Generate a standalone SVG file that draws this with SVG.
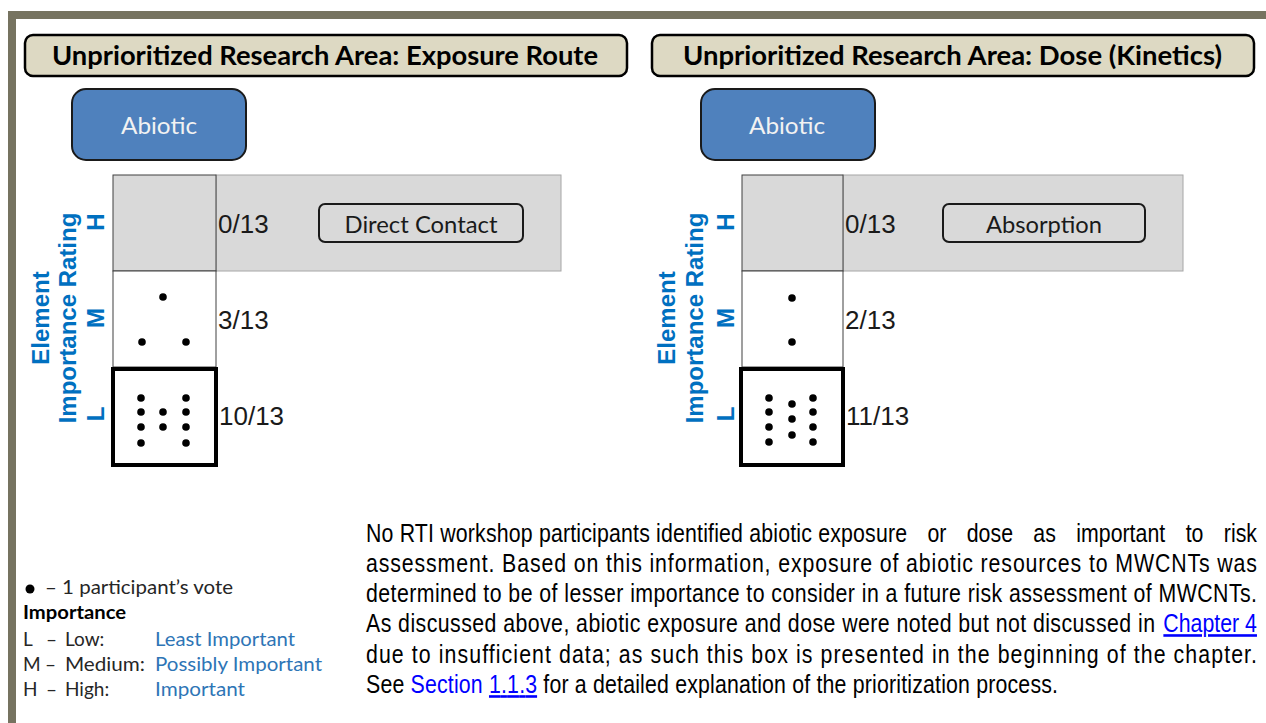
<svg xmlns="http://www.w3.org/2000/svg" width="1266" height="723" viewBox="0 0 1266 723">
<style>
.title-box{fill:#ddd9c3;stroke:#000;stroke-width:2.5}
.title{font-family:Lato,"Open Sans",sans-serif;font-weight:bold;font-size:26px;fill:#000;text-anchor:middle}
.abiotic-box{fill:#4f81bd;stroke:#1a1a1a;stroke-width:2}
.abiotic{font-family:Lato,"Open Sans",sans-serif;font-size:24px;fill:#f2f2f2;text-anchor:middle}
.hcell{fill:#d9d9d9;stroke:#404040;stroke-width:1}
.band{fill:#d9d9d9;stroke:#a6a6a6;stroke-width:1}
.mcell{fill:#fff;stroke:#404040;stroke-width:1}
.lcell{fill:#fff;stroke:#000;stroke-width:4}
.tag-box{fill:none;stroke:#1a1a1a;stroke-width:2}
.tag{font-family:Lato,"Open Sans",sans-serif;font-size:23px;fill:#1a1a1a;text-anchor:middle}
.count{font-family:"Liberation Sans",Arial,sans-serif;font-size:26px;fill:#1a1a1a}
.axis{font-family:"Liberation Sans",Arial,sans-serif;font-weight:bold;font-size:24px;fill:#0070c0;text-anchor:middle}
.dot{fill:#000}
.leg{font-family:Lato,"Open Sans",sans-serif;font-size:19px;fill:#262626}
.legb{font-family:Lato,"Open Sans",sans-serif;font-size:19px;font-weight:bold;fill:#000}
.legblue{font-family:Lato,"Open Sans",sans-serif;font-size:19px;fill:#2e75b6}
.para{font-family:"Liberation Sans",Arial,sans-serif;font-size:26px;fill:#000}
.link{fill:#0000ff}
</style>
<g id="frame">
<rect x="8" y="11" width="1258" height="8" fill="#767360"/>
<rect x="8" y="11" width="8" height="712" fill="#767360"/>
</g>
<g id="connectors"/>
<g id="title-exposure">
<rect class="title-box" x="25" y="35" width="602" height="41" rx="8"/>
<text class="title" x="325" y="65" textLength="546" lengthAdjust="spacingAndGlyphs">Unprioritized Research Area: Exposure Route</text>
</g>
<g id="title-dose">
<rect class="title-box" x="652" y="35" width="602" height="41" rx="8"/>
<text class="title" x="952.5" y="65" textLength="539" lengthAdjust="spacingAndGlyphs">Unprioritized Research Area: Dose (Kinetics)</text>
</g>
<g id="abiotic-exposure">
<rect class="abiotic-box" x="72" y="89" width="174" height="71" rx="14"/>
<text class="abiotic" x="159" y="134" textLength="76" lengthAdjust="spacingAndGlyphs">Abiotic</text>
</g>
<g id="abiotic-dose">
<rect class="abiotic-box" x="701" y="89" width="174" height="71" rx="14"/>
<text class="abiotic" x="787" y="134" textLength="76" lengthAdjust="spacingAndGlyphs">Abiotic</text>
</g>
<g id="grid-exposure">
<rect class="band" x="216" y="175" width="345" height="96"/>
<rect class="hcell" x="113" y="175" width="103" height="96"/>
<rect class="mcell" x="113" y="271" width="103" height="96"/>
<rect class="lcell" x="113" y="369" width="103" height="96"/>
<circle class="dot" cx="163" cy="297" r="3.8"/>
<circle class="dot" cx="142" cy="342" r="3.8"/>
<circle class="dot" cx="186" cy="342" r="3.8"/>
<circle class="dot" cx="141" cy="398" r="3.8"/>
<circle class="dot" cx="141" cy="412" r="3.8"/>
<circle class="dot" cx="141" cy="427" r="3.8"/>
<circle class="dot" cx="141" cy="443" r="3.8"/>
<circle class="dot" cx="163" cy="412" r="3.8"/>
<circle class="dot" cx="163" cy="427" r="3.8"/>
<circle class="dot" cx="186" cy="398" r="3.8"/>
<circle class="dot" cx="186" cy="412" r="3.8"/>
<circle class="dot" cx="186" cy="427" r="3.8"/>
<circle class="dot" cx="186" cy="443" r="3.8"/>
<text class="count" x="218" y="233">0/13</text>
<text class="count" x="218" y="329">3/13</text>
<text class="count" x="219" y="425">10/13</text>
<text class="axis" transform="translate(49,318) rotate(-90)">Element</text>
<text class="axis" transform="translate(76,318) rotate(-90)">Importance Rating</text>
<text class="axis" transform="translate(104,414) rotate(-90)">L</text>
<text class="axis" transform="translate(104,318) rotate(-90)">M</text>
<text class="axis" transform="translate(104,222) rotate(-90)">H</text>
</g>
<g id="direct-contact">
<rect class="tag-box" x="319" y="204" width="204" height="38" rx="6"/>
<text class="tag" x="421" y="233" textLength="153" lengthAdjust="spacingAndGlyphs">Direct Contact</text>
</g>
<g id="grid-dose">
<rect class="band" x="843" y="175" width="340" height="96"/>
<rect class="hcell" x="742" y="175" width="101" height="96"/>
<rect class="mcell" x="742" y="271" width="101" height="96"/>
<rect class="lcell" x="741" y="369" width="102" height="96"/>
<circle class="dot" cx="792" cy="298" r="3.8"/>
<circle class="dot" cx="792" cy="342" r="3.8"/>
<circle class="dot" cx="769" cy="398" r="3.8"/>
<circle class="dot" cx="769" cy="412" r="3.8"/>
<circle class="dot" cx="769" cy="427" r="3.8"/>
<circle class="dot" cx="769" cy="442" r="3.8"/>
<circle class="dot" cx="792" cy="404" r="3.8"/>
<circle class="dot" cx="792" cy="419" r="3.8"/>
<circle class="dot" cx="792" cy="435" r="3.8"/>
<circle class="dot" cx="813" cy="398" r="3.8"/>
<circle class="dot" cx="813" cy="412" r="3.8"/>
<circle class="dot" cx="813" cy="427" r="3.8"/>
<circle class="dot" cx="813" cy="442" r="3.8"/>
<text class="count" x="845" y="233">0/13</text>
<text class="count" x="845" y="329">2/13</text>
<text class="count" x="846" y="425">11/13</text>
<text class="axis" transform="translate(675,318) rotate(-90)">Element</text>
<text class="axis" transform="translate(703,318) rotate(-90)">Importance Rating</text>
<text class="axis" transform="translate(734,414) rotate(-90)">L</text>
<text class="axis" transform="translate(734,318) rotate(-90)">M</text>
<text class="axis" transform="translate(734,222) rotate(-90)">H</text>
</g>
<g id="absorption">
<rect class="tag-box" x="943" y="204" width="202" height="38" rx="6"/>
<text class="tag" x="1044" y="233" textLength="116" lengthAdjust="spacingAndGlyphs">Absorption</text>
</g>
<g id="legend">
<circle class="dot" cx="30" cy="589" r="4.5"/>
<text class="leg" x="45" y="594" textLength="188" lengthAdjust="spacingAndGlyphs">– 1 participant’s vote</text>
<text class="legb" x="23" y="619" textLength="103" lengthAdjust="spacingAndGlyphs">Importance</text>
<text class="leg" x="23" y="646">L</text>
<text class="leg" x="46" y="646">–</text>
<text class="leg" x="65" y="646">Low:</text>
<text class="legblue" x="155" y="646" textLength="140" lengthAdjust="spacingAndGlyphs">Least Important</text>
<text class="leg" x="23" y="671">M</text>
<text class="leg" x="45" y="671">–</text>
<text class="leg" x="65" y="671" textLength="80" lengthAdjust="spacingAndGlyphs">Medium:</text>
<text class="legblue" x="155" y="671" textLength="167" lengthAdjust="spacingAndGlyphs">Possibly Important</text>
<text class="leg" x="23" y="696">H</text>
<text class="leg" x="46" y="696">–</text>
<text class="leg" x="65" y="696">High:</text>
<text class="legblue" x="155" y="696" textLength="90" lengthAdjust="spacingAndGlyphs">Important</text>
</g>
<g id="paragraph" transform="scale(0.82,1)">
<text class="para" x="446.34" y="542" textLength="659.8" lengthAdjust="spacing">No RTI workshop participants identified abiotic exposure</text>
<text class="para" x="1131" y="542">or</text>
<text class="para" x="1179" y="542">dose</text>
<text class="para" x="1260.2" y="542">as</text>
<text class="para" x="1312.6" y="542">important</text>
<text class="para" x="1445.9" y="542">to</text>
<text class="para" x="1532.9" y="542" text-anchor="end">risk</text>
<text class="para" x="446.34" y="572" textLength="1086.6" lengthAdjust="spacing">assessment. Based on this information, exposure of abiotic resources to MWCNTs was</text>
<text class="para" x="446.34" y="602" textLength="1086.6" lengthAdjust="spacing">determined to be of lesser importance to consider in a future risk assessment of MWCNTs.</text>
<text class="para" x="446.34" y="632" textLength="962.2" lengthAdjust="spacing">As discussed above, abiotic exposure and dose were noted but not discussed in</text>
<text class="para link" x="1532.9" y="632" text-anchor="end" text-decoration="underline">Chapter 4</text>
<text class="para" x="446.34" y="663" textLength="1086.6" lengthAdjust="spacing">due to insufficient data; as such this box is presented in the beginning of the chapter.</text>
<text class="para" x="446.34" y="693" textLength="843.9" lengthAdjust="spacing">See <tspan class="link">Section</tspan> <tspan class="link" text-decoration="underline">1.1.3</tspan> for a detailed explanation of the prioritization process.</text>
</g>
</svg>
